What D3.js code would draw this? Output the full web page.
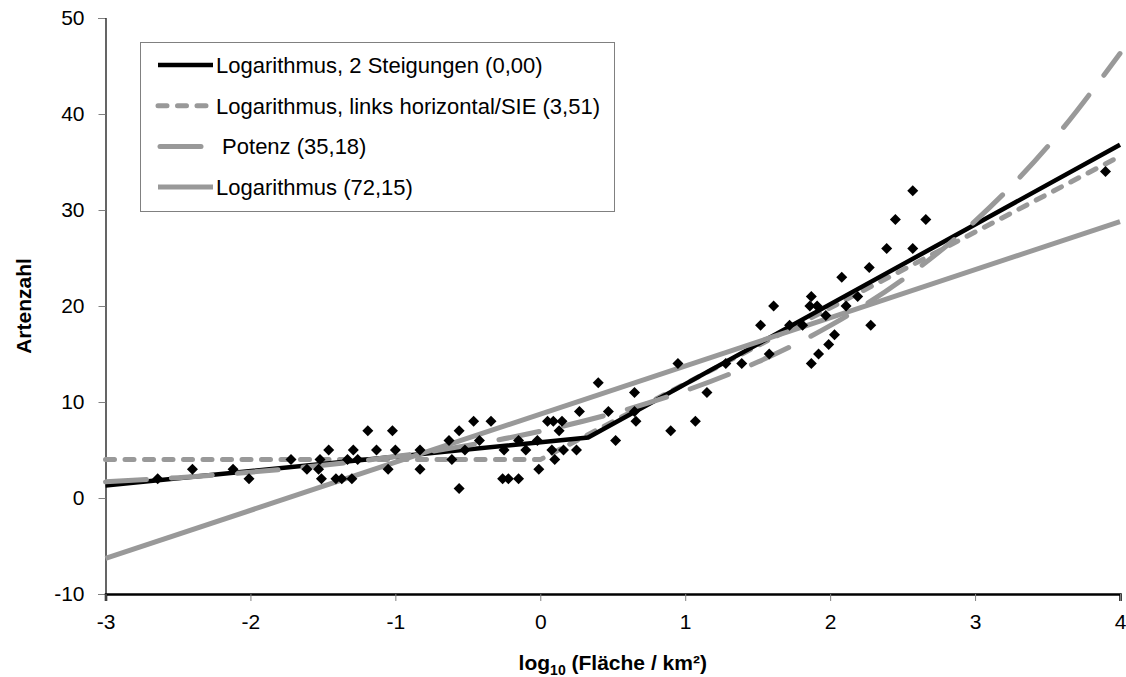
<!DOCTYPE html>
<html>
<head>
<meta charset="utf-8">
<script src="https://cdn.jsdelivr.net/npm/d3@7"></script>
<style>
  body { margin: 0; background: #fff; }
  svg text { font-family: "Liberation Sans", Arial, sans-serif; }
</style>
</head>
<body>
<svg id="chart" width="1126" height="677"></svg>
<script>
// Globals.
var WIDTH = 1126;
var HEIGHT = 677;
var LEFT = 105.5;
var RIGHT = 1120;
var TOP = 18;
var BOTTOM = 594;
var GRAY = '#999999';

// Tick values.
var xTicks = [-3, -2, -1, 0, 1, 2, 3, 4];
var yTicks = [-10, 0, 10, 20, 30, 40, 50];

// Observations: log10 area and species count.
var obsX = [-2.64, -2.40, -2.12, -2.01, -1.72, -1.61, -1.53, -1.52, -1.51, -1.46,
            -1.41, -1.37, -1.33, -1.30, -1.29, -1.26, -1.19, -1.13, -1.05, -1.02,
            -1.00, -0.83, -0.83, -0.63, -0.61, -0.56, -0.56, -0.52, -0.46, -0.42,
            -0.34, -0.26, -0.25, -0.22, -0.15, -0.15, -0.10, -0.02, -0.01, 0.05,
            0.09, 0.15, 0.13, 0.08, 0.10, 0.16, 0.25, 0.27, 0.40, 0.47,
            0.52, 0.65, 0.65, 0.66, 0.90, 0.95, 1.07, 1.15, 1.28, 1.39,
            1.58, 1.52, 1.61, 1.72, 1.81, 1.87, 1.86, 1.91, 1.97, 1.87,
            1.92, 1.99, 2.03, 2.11, 2.08, 2.19, 2.28, 2.27, 2.39, 2.45,
            2.57, 2.57, 2.66, 3.90];
var obsY = [2, 3, 3, 2, 4, 3, 3, 4, 2, 5,
            2, 2, 4, 2, 5, 4, 7, 5, 3, 7,
            5, 5, 3, 6, 4, 7, 1, 5, 8, 6,
            8, 2, 5, 2, 6, 2, 5, 6, 3, 8,
            8, 8, 7, 5, 4, 5, 5, 9, 12, 9,
            6, 11, 9, 8, 7, 14, 8, 11, 14, 14,
            15, 18, 20, 18, 18, 21, 20, 20, 19, 14,
            15, 16, 17, 20, 23, 21, 18, 24, 26, 29,
            32, 26, 29, 34];

// Fitted models at their vertices / sample points.
var twoSlopeX = [-3, 0.33, 4];
var twoSlopeY = [1.3, 6.3, 36.8];
var sieX = [-3, 0.0, 4];
var sieY = [4.0, 4.0, 35.6];
var powerX = [-3, -2.5, -2, -1.5, -1, -0.5, 0, 0.5, 1, 1.5, 2, 2.5, 3, 3.5, 4];
var powerY = [1.68, 2.12, 2.69, 3.41, 4.32, 5.48, 6.95, 8.81, 11.17, 14.16,
              17.95, 22.75, 28.84, 36.6, 46.3];
var logX = [-3, 4];
var logY = [-6.3, 28.8];

var legendLabels = ['Logarithmus, 2 Steigungen (0,00)',
                    'Logarithmus, links horizontal/SIE (3,51)',
                    ' Potenz (35,18)',
                    'Logarithmus (72,15)'];

var svg = d3.select('#chart');

var x = d3.scaleLinear().domain([-3, 4]).range([LEFT, RIGHT]);
var y = d3.scaleLinear().domain([-10, 50]).range([BOTTOM, TOP]);

var zip = function(xs, ys) {
  return xs.map(function(v, i) { return [v, ys[i]]; });
};

/**
 * Series styles. Legend order; drawing order is set separately below.
 */
var series = [
  {data: zip(twoSlopeX, twoSlopeY), color: '#000', width: 4.5, dash: null, curve: d3.curveLinear},
  {data: zip(sieX, sieY), color: GRAY, width: 5, dash: '9,10.5', curve: d3.curveLinear},
  {data: zip(powerX, powerY), color: GRAY, width: 5, dash: '41,25', curve: d3.curveMonotoneX},
  {data: zip(logX, logY), color: GRAY, width: 5, dash: null, curve: d3.curveLinear}
];
var drawOrder = [1, 0, 2, 3];

var plain = function(d) { return String(d); };

// Axes.
var yAxis = svg.append('g')
  .attr('transform', 'translate(' + LEFT + ',0)')
  .call(d3.axisLeft(y).tickValues(yTicks).tickFormat(plain).tickSize(7).tickPadding(14));
yAxis.select('.domain').attr('stroke', '#000').attr('stroke-width', 1.2);
yAxis.selectAll('.tick line').attr('stroke', '#808080');
yAxis.selectAll('.tick text').attr('font-size', 21).attr('fill', '#000');

var xAxis = svg.append('g')
  .attr('transform', 'translate(0,' + BOTTOM + ')')
  .call(d3.axisBottom(x).tickValues(xTicks).tickFormat(plain).tickSize(7).tickPadding(13));
xAxis.select('.domain').attr('stroke', '#000').attr('stroke-width', 2.5);
xAxis.selectAll('.tick line').attr('stroke', '#808080');
xAxis.selectAll('.tick text').attr('font-size', 21).attr('fill', '#000');

// Axis titles.
svg.append('text')
  .attr('transform', 'translate(31,' + ((TOP + BOTTOM) / 2) + ') rotate(-90)')
  .attr('text-anchor', 'middle')
  .attr('font-size', 21)
  .attr('font-weight', 'bold')
  .text('Artenzahl');

var xTitle = svg.append('text')
  .attr('x', (LEFT + RIGHT) / 2)
  .attr('y', 670)
  .attr('text-anchor', 'middle')
  .attr('font-size', 21)
  .attr('font-weight', 'bold');
xTitle.append('tspan').text('log');
xTitle.append('tspan').attr('font-size', 14).attr('dy', 5).text('10');
xTitle.append('tspan').attr('dy', -5).text(' (Fläche / km²)');

// Model lines.
var plot = svg.append('g');
drawOrder.forEach(function(k) {
  var s = series[k];
  var line = d3.line()
    .x(function(d) { return x(d[0]); })
    .y(function(d) { return y(d[1]); })
    .curve(s.curve);
  plot.append('path')
    .datum(s.data)
    .attr('d', line)
    .attr('fill', 'none')
    .attr('stroke', s.color)
    .attr('stroke-width', s.width)
    .attr('stroke-linecap', s.dash ? 'round' : 'butt')
    .attr('stroke-dasharray', s.dash);
});

// Observations as diamonds.
plot.selectAll('path.obs')
  .data(zip(obsX, obsY))
  .enter()
  .append('path')
  .attr('class', 'obs')
  .attr('d', 'M0,-5.5L5.5,0L0,5.5L-5.5,0Z')
  .attr('transform', function(d) { return 'translate(' + x(d[0]) + ',' + y(d[1]) + ')'; })
  .attr('fill', '#000');

// Legend.
var legend = svg.append('g');
legend.append('rect')
  .attr('x', 140.5).attr('y', 42.5)
  .attr('width', 474).attr('height', 169)
  .attr('fill', '#fff')
  .attr('stroke', '#808080')
  .attr('stroke-width', 1);

series.forEach(function(s, i) {
  var ly = 65 + i * 40.7;
  legend.append('line')
    .attr('x1', i === 2 ? 160 : 158).attr('x2', 213)
    .attr('y1', ly).attr('y2', ly)
    .attr('stroke', s.color)
    .attr('stroke-width', s.width)
    .attr('stroke-linecap', s.dash ? 'round' : 'butt')
    .attr('stroke-dasharray', s.dash);
  legend.append('text')
    .attr('x', 216)
    .attr('y', ly + 8)
    .attr('font-size', 22)
    .style('white-space', 'pre')
    .text(legendLabels[i]);
});
</script>
</body>
</html>
